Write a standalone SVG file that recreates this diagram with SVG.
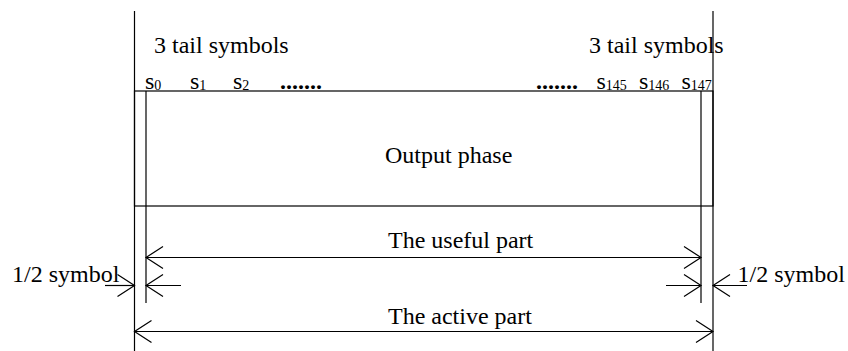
<svg xmlns="http://www.w3.org/2000/svg" width="848" height="351" viewBox="0 0 848 351">
<style>
.ln{stroke:#000;stroke-width:1.2;fill:none}
.t{font-family:"Liberation Serif","Times New Roman",serif;font-size:24px;fill:#000}
.sub{font-size:14px}
.dots{font-weight:bold}
</style>
<defs>
<marker id="ah" viewBox="-19 -12 21 24" markerWidth="21" markerHeight="24" refX="0" refY="0" markerUnits="userSpaceOnUse" orient="auto">
<path d="M -17 -11 L 0 0 L -17 11" fill="none" stroke="#000" stroke-width="1.2"/>
</marker>
</defs>
<rect width="848" height="351" fill="#fff"/>
<g id="frame">
<rect id="output-phase-box" x="134.5" y="91" width="578.5" height="115" class="ln"/>
<line x1="134.5" y1="11" x2="134.5" y2="351" class="ln"/>
<line x1="713" y1="11" x2="713" y2="351" class="ln"/>
<line x1="146" y1="91" x2="146" y2="303" class="ln"/>
<line x1="701" y1="91" x2="701" y2="303" class="ln"/>
</g>
<g id="labels">
<text class="t" x="154" y="53">3 tail symbols</text>
<text class="t" x="589" y="53">3 tail symbols</text>
<text class="t" x="145" y="89">s<tspan class="sub" dy="1">0</tspan></text>
<text class="t" x="190" y="89">s<tspan class="sub" dy="1">1</tspan></text>
<text class="t" x="233" y="89">s<tspan class="sub" dy="1">2</tspan></text>
<text class="t dots" x="280" y="89">.......</text>
<text class="t dots" x="536" y="89">.......</text>
<text class="t" x="596.5" y="89">s<tspan class="sub" dy="1">145</tspan></text>
<text class="t" x="639" y="89">s<tspan class="sub" dy="1">146</tspan></text>
<text class="t" x="681.5" y="89">s<tspan class="sub" dy="1">147</tspan></text>
<text class="t" x="385" y="163">Output phase</text>
<text class="t" x="388" y="248">The useful part</text>
<text class="t" x="388" y="324">The active part</text>
<text class="t" x="12" y="282">1/2 symbol</text>
<text class="t" x="737.5" y="282">1/2 symbol</text>
</g>
<g id="connectors">
<line x1="146" y1="257.5" x2="701" y2="257.5" class="ln" marker-end="url(#ah)"/>
<line x1="701" y1="257.5" x2="146" y2="257.5" class="ln" marker-end="url(#ah)"/>
<line x1="134.5" y1="331.5" x2="713" y2="331.5" class="ln" marker-end="url(#ah)"/>
<line x1="713" y1="331.5" x2="134.5" y2="331.5" class="ln" marker-end="url(#ah)"/>
<line x1="105" y1="285.5" x2="134.5" y2="285.5" class="ln" marker-end="url(#ah)"/>
<line x1="181" y1="285.5" x2="146" y2="285.5" class="ln" marker-end="url(#ah)"/>
<line x1="666" y1="285.5" x2="701" y2="285.5" class="ln" marker-end="url(#ah)"/>
<line x1="747" y1="285.5" x2="713" y2="285.5" class="ln" marker-end="url(#ah)"/>
</g>
</svg>
